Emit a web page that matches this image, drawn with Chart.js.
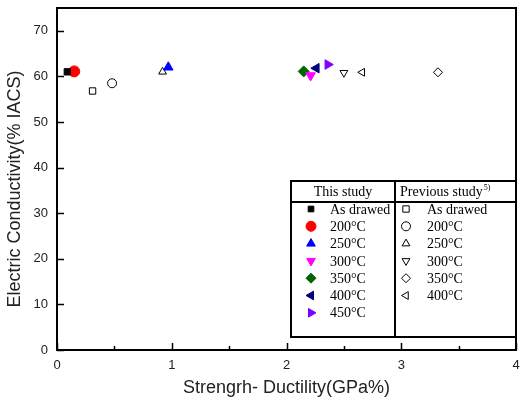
<!DOCTYPE html>
<html>
<head>
<meta charset="utf-8">
<script src="https://cdn.jsdelivr.net/npm/chart.js@4/dist/chart.umd.min.js"></script>
<style>
  body { margin: 0; background: #fff; }
  #wrap { width: 523px; height: 406px; }
</style>
</head>
<body>
<div id="wrap"><canvas id="chart" width="523" height="406"></canvas></div>
<script>
// This study (filled markers)
const thisLabels = ['As drawed', '200°C', '250°C', '300°C', '350°C', '400°C', '450°C'];
const thisX = [0.09, 0.15, 0.97, 2.21, 2.15, 2.26, 2.36];
const thisY = [61.0, 61.1, 62.0, 60.2, 61.1, 61.8, 62.6];
const thisColors = ['#000000', '#ff0000', '#0000ff', '#ff00ff', '#006400', '#000080', '#8000ff'];

// Previous study (open markers)
const prevLabels = ['As drawed', '200°C', '250°C', '300°C', '350°C', '400°C'];
const prevX = [0.31, 0.48, 0.92, 2.50, 3.32, 2.66];
const prevY = [56.8, 58.5, 61.0, 60.8, 60.9, 60.9];

// marker shapes, same order for both studies
const shapes = [
    { pointStyle: 'rect', rotation: 0 },
    { pointStyle: 'circle', rotation: 0 },
    { pointStyle: 'triangle', rotation: 0 },
    { pointStyle: 'triangle', rotation: 180 },
    { pointStyle: 'rectRot', rotation: 0 },
    { pointStyle: 'triangle', rotation: 270 },
    { pointStyle: 'triangle', rotation: 90 }
];

const xTicks = [0, 1, 2, 3, 4];
const xMinorTicks = [0.5, 1.5, 2.5, 3.5];
const yTicks = [0, 10, 20, 30, 40, 50, 60, 70];
const yTitle = 'Electric Conductivity(% IACS)';

const datasets = [];
thisLabels.forEach((lab, i) => {
    datasets.push({
        label: 'This study ' + lab,
        data: [{ x: thisX[i], y: thisY[i] }],
        pointStyle: shapes[i].pointStyle,
        rotation: shapes[i].rotation,
        pointRadius: shapes[i].pointStyle === 'rect' ? 4.5 : 5.5,
        backgroundColor: thisColors[i],
        borderColor: thisColors[i],
        borderWidth: 1
    });
});
prevLabels.forEach((lab, i) => {
    datasets.push({
        label: 'Previous study ' + lab,
        data: [{ x: prevX[i], y: prevY[i] }],
        pointStyle: shapes[i].pointStyle,
        rotation: shapes[i].rotation,
        pointRadius: 4.5,
        backgroundColor: '#ffffff',
        borderColor: '#000000',
        borderWidth: 1
    });
});

// Helper to draw one marker with Chart's own point renderer
function marker(ctx, style, radius, fill, stroke, x, y) {
    ctx.save();
    ctx.fillStyle = fill;
    ctx.strokeStyle = stroke;
    ctx.lineWidth = 1;
    Chart.helpers.drawPoint(ctx, { pointStyle: style.pointStyle, rotation: style.rotation, radius: radius, borderWidth: 1 }, x, y);
    ctx.restore();
}

// Frame, inward ticks, y title and the two-column legend box
const framePlugin = {
    id: 'frame',
    afterDraw(chart) {
        const ctx = chart.ctx;
        const a = chart.chartArea;
        const xs = chart.scales.x, ys = chart.scales.y;
        ctx.save();
        ctx.strokeStyle = '#000';
        ctx.lineWidth = 2;
        ctx.strokeRect(a.left, a.top, a.right - a.left, a.bottom - a.top);

        ctx.lineWidth = 1.5;
        ctx.beginPath();
        xTicks.forEach(v => {
            const px = Math.round(xs.getPixelForValue(v)) + 0.5;
            ctx.moveTo(px, a.bottom);
            ctx.lineTo(px, a.bottom - 7);
        });
        xMinorTicks.forEach(v => {
            const px = Math.round(xs.getPixelForValue(v)) + 0.5;
            ctx.moveTo(px, a.bottom);
            ctx.lineTo(px, a.bottom - 4);
        });
        yTicks.forEach(v => {
            const py = Math.round(ys.getPixelForValue(v)) + 0.5;
            ctx.moveTo(a.left, py);
            ctx.lineTo(a.left + 7, py);
        });
        ctx.stroke();

        // y axis title (sits a bit below the plot centre in the original)
        ctx.save();
        ctx.translate(15, 189);
        ctx.rotate(-Math.PI / 2);
        ctx.fillStyle = '#222';
        ctx.font = '18px "Liberation Sans", Arial, sans-serif';
        ctx.textAlign = 'center';
        ctx.textBaseline = 'middle';
        ctx.fillText(yTitle, 0, 0);
        ctx.restore();

        // legend box
        const L = 291, T = 181, R = a.right, B = 337, mid = 395, hdr = 202;
        ctx.lineWidth = 2;
        ctx.strokeRect(L, T, R - L, B - T);
        ctx.beginPath();
        ctx.moveTo(L, hdr); ctx.lineTo(R, hdr);
        ctx.moveTo(mid, T); ctx.lineTo(mid, B);
        ctx.stroke();

        ctx.fillStyle = '#000';
        ctx.font = '14px "Liberation Serif", "Times New Roman", serif';
        ctx.textBaseline = 'middle';
        ctx.textAlign = 'center';
        ctx.fillText('This study', (L + mid) / 2, (T + hdr) / 2 + 1);
        ctx.textAlign = 'left';
        ctx.fillText('Previous study', mid + 5, (T + hdr) / 2 + 1);
        const w = ctx.measureText('Previous study').width;
        ctx.font = '8px "Liberation Serif", serif';
        ctx.fillText('5)', mid + 6 + w, T + 7);

        ctx.font = '14px "Liberation Serif", "Times New Roman", serif';
        const rowY = i => 209 + i * 17.3;
        thisLabels.forEach((lab, i) => {
            marker(ctx, shapes[i], shapes[i].pointStyle === 'rect' ? 4 : 5, thisColors[i], thisColors[i], 311, rowY(i));
            ctx.fillStyle = '#000';
            ctx.fillText(lab, 330, rowY(i) + 1);
        });
        prevLabels.forEach((lab, i) => {
            marker(ctx, shapes[i], 4.5, '#fff', '#000', 406, rowY(i));
            ctx.fillStyle = '#000';
            ctx.fillText(lab, 427, rowY(i) + 1);
        });
        ctx.restore();
    }
};

new Chart(document.getElementById('chart'), {
    type: 'scatter',
    data: { datasets: datasets },
    options: {
        responsive: false,
        animation: false,
        layout: { padding: { top: 8, right: 7, left: 0, bottom: 0 } },
        plugins: {
            legend: { display: false },
            tooltip: { enabled: false }
        },
        scales: {
            x: {
                type: 'linear',
                min: 0,
                max: 4,
                afterFit: s => { s.height = 56; s.paddingLeft = 0; s.paddingRight = 0; },
                grid: { display: false, drawTicks: false },
                border: { display: false },
                ticks: {
                    stepSize: 1,
                    padding: 8,
                    color: '#222',
                    font: { family: 'Liberation Sans, Arial, sans-serif', size: 13 }
                },
                title: {
                    display: true,
                    text: 'Strengrh- Ductility(GPa%)',
                    color: '#222',
                    font: { family: 'Liberation Sans, Arial, sans-serif', size: 18 },
                    padding: { top: 0, bottom: 7 }
                }
            },
            y: {
                type: 'linear',
                min: 0,
                max: 75,
                afterFit: s => { s.width = 57; s.paddingTop = 0; s.paddingBottom = 0; },
                afterBuildTicks: s => { s.ticks = yTicks.map(v => ({ value: v })); },
                grid: { display: false, drawTicks: false },
                border: { display: false },
                ticks: {
                    padding: 9,
                    color: '#222',
                    font: { family: 'Liberation Sans, Arial, sans-serif', size: 13 }
                }
            }
        }
    },
    plugins: [framePlugin]
});
</script>
</body>
</html>
